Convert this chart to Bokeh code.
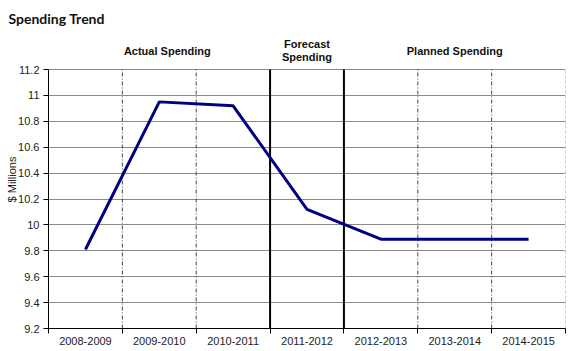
from bokeh.plotting import figure
from bokeh.models import Range1d, FixedTicker, Label, NumeralTickFormatter, Title
from bokeh.embed import file_html
from bokeh.resources import INLINE

# ---- data ----
years = ["2008-2009", "2009-2010", "2010-2011", "2011-2012",
         "2012-2013", "2013-2014", "2014-2015"]
spending = [9.81, 10.95, 10.92, 10.12, 9.89, 9.89, 9.89]
y_ticks = [9.2, 9.4, 9.6, 9.8, 10.0, 10.2, 10.4, 10.6, 10.8, 11.0, 11.2]
phases = ["Actual Spending", "Forecast\nSpending", "Planned Spending"]
phase_years = [3, 1, 3]  # number of fiscal years in each phase

n = len(years)
xs = [i + 0.5 for i in range(n)]
ymin, ymax = y_ticks[0], y_ticks[-1]

W, H = 575, 351
LEFT, RIGHT, TOP, BOTTOM = 48, 10, 30, 23
PLOT_TOP = 69                      # pixel row of the 11.2 line
fw = W - LEFT - RIGHT
fh_data = H - PLOT_TOP - BOTTOM
ux = n / fw
uy = (ymax - ymin) / fh_data
ytop = ymax + (PLOT_TOP - TOP) * uy  # extra room for the phase headers

p = figure(width=W, height=H, output_backend="svg", toolbar_location=None,
           x_range=Range1d(0, n), y_range=Range1d(ymin, ytop),
           min_border_left=LEFT, min_border_right=RIGHT,
           min_border_top=TOP, min_border_bottom=BOTTOM)
p.outline_line_color = None
p.background_fill_color = "white"

p.add_layout(Title(text="Spending Trend", align="left", offset=-40,
                   text_font="Lato", text_font_style="bold",
                   text_font_size="14px", text_color="#111111",
                   standoff=7), "above")

# grid
p.xgrid.grid_line_color = None
p.ygrid.ticker = FixedTicker(ticks=y_ticks)
p.ygrid.grid_line_color = "#8a8a8a"
p.ygrid.grid_line_width = 1

# y axis
p.yaxis.ticker = FixedTicker(ticks=y_ticks)
p.yaxis.bounds = (ymin, ymax)
p.yaxis.formatter = NumeralTickFormatter(format="0.[0]")
p.yaxis.axis_label = "$ Millions"
p.yaxis.axis_label_text_font = "Liberation Sans"
p.yaxis.axis_label_text_font_style = "normal"
p.yaxis.axis_label_text_font_size = "11px"
p.yaxis.axis_label_text_color = "#222222"
p.yaxis.axis_label_standoff = -3
p.yaxis.major_label_text_font = "Liberation Sans"
p.yaxis.major_label_text_font_size = "11px"
p.yaxis.major_label_text_color = "#222222"
p.yaxis.major_tick_out = 5
p.yaxis.major_tick_in = 0
p.yaxis.minor_tick_line_color = None
p.yaxis.axis_line_color = "black"
p.yaxis.major_tick_line_color = "black"
p.yaxis.major_label_standoff = 4

# x axis: labels at centers, ticks at boundaries
p.xaxis.ticker = FixedTicker(ticks=xs, minor_ticks=list(range(n + 1)))
p.xaxis.major_label_overrides = {x: y for x, y in zip(xs, years)}
p.xaxis.major_tick_line_color = None
p.xaxis.minor_tick_line_color = "black"
p.xaxis.minor_tick_out = 5
p.xaxis.minor_tick_in = 0
p.xaxis.axis_line_color = "black"
p.xaxis.major_label_text_font = "Liberation Sans"
p.xaxis.major_label_text_font_size = "11px"
p.xaxis.major_label_text_color = "#222222"
p.xaxis.major_label_standoff = 2

# boundaries between years
phase_edges = []
acc = 0
for k in phase_years:
    acc += k
    phase_edges.append(acc)
solid = [b for b in range(1, n) if b in phase_edges]
dashed = [b for b in range(1, n) if b not in phase_edges]
p.segment(x0=solid, y0=[ymin] * len(solid), x1=solid, y1=[ymax] * len(solid),
          line_color="black", line_width=2)
p.segment(x0=dashed, y0=[ymin] * len(dashed), x1=dashed, y1=[ymax] * len(dashed),
          line_color="#444444", line_width=1, line_dash="4 2 1 2")
p.segment(x0=[n], y0=[ymin], x1=[n], y1=[ymax],
          line_color="#9a9a9a", line_width=1, line_dash="3 2")

# spending line
p.line(xs, spending, line_color="#000080", line_width=3)

# phase labels
start = 0
for name, k in zip(phases, phase_years):
    mid = start + k / 2
    lines = name.split("\n")
    if len(lines) == 1:
        off = 8 if start == 0 else 0
        p.add_layout(Label(x=mid + off * ux, y=ymax + 19 * uy, text=name,
                           text_align="center", text_baseline="middle",
                           text_font="Liberation Sans", text_font_style="bold",
                           text_font_size="11px", text_color="#111111"))
    else:
        for j, t in enumerate(lines):
            p.add_layout(Label(x=mid, y=ymax + (26 - 13 * j) * uy, text=t,
                               text_align="center", text_baseline="middle",
                               text_font="Liberation Sans", text_font_style="bold",
                               text_font_size="11px", text_color="#111111"))
    start += k

open("out.html", "w").write(file_html(p, INLINE))
